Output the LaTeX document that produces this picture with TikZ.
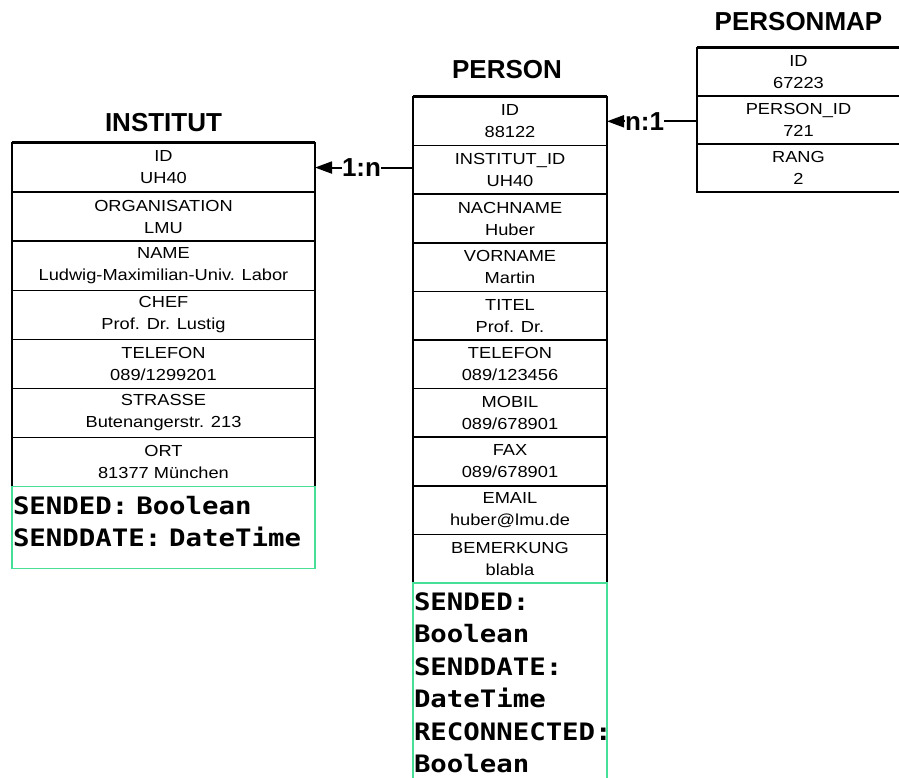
\documentclass[tikz,border=0pt]{standalone}
\usepackage{fontspec}
\setmainfont{Liberation Sans}
\newfontfamily\fieldfont[FakeStretch=1.14]{Liberation Sans}
\newfontfamily\sendfont[FakeStretch=1.14]{DejaVu Sans Mono}
\usepackage{xcolor}
\usepackage{tikz}
\usetikzlibrary{arrows.meta,positioning}
\definecolor{mint}{RGB}{70,225,150}

\begin{document}
\begin{tikzpicture}[
                    x=1pt, y=-1pt,
                    field/.style={draw, line width=1.5pt, outer sep=0pt, inner sep=0pt, align=center, minimum height=48.6pt, font=\fieldfont\fontsize{16}{22}\selectfont},
                    ifield/.style={field, minimum width=303pt, minimum height=49.1pt},
                    pfield/.style={field, minimum width=194pt},
                    mfield/.style={field, minimum width=203pt, minimum height=48pt},
                    topline/.style={line width=3pt},
                    sendbox/.style={draw=mint, line width=1.5pt, outer sep=0pt, inner xsep=1pt, inner ysep=0pt, align=left, font=\sendfont\bfseries\fontsize{24}{32.5}\selectfont},
                    title/.style={anchor=base, font=\bfseries\fontsize{26}{30}\selectfont},
                    rel/.style={-{Triangle[length=17pt,width=12pt]}, line width=2pt},
                    card/.style={fill=white, inner sep=0pt, anchor=west, font=\bfseries\fontsize{26}{30}\selectfont}
                ]
                    \useasboundingbox (0,0) rectangle (899,778);

                    % INSTITUT
                    \node[ifield, anchor=north west] (iId) at (12,143) {ID\\UH40};
                    \node[ifield, below=0pt of iId] (iOrg) {ORGANISATION\\LMU};
                    \node[ifield, below=0pt of iOrg] (iName) {NAME\\Ludwig-Maximilian-Univ. Labor};
                    \node[ifield, below=0pt of iName] (iChef) {CHEF\\Prof. Dr. Lustig};
                    \node[ifield, below=0pt of iChef] (iTel) {TELEFON\\089/1299201};
                    \node[ifield, below=0pt of iTel] (iStr) {STRASSE\\Butenangerstr. 213};
                    \node[ifield, below=0pt of iStr] (iOrt) {ORT\\81377 München};
                    \node[sendbox, text width=301pt, minimum height=82pt, text depth=45pt, below=0pt of iOrt] (iSend) {SENDED: Boolean\\SENDDATE: DateTime};
                    \node[above=11pt of iId, title] (iTitle) {INSTITUT};
                    \draw[topline] (iId.north west) -- (iId.north east);

                    % PERSON
                    \node[pfield, anchor=north west] (pId) at (413,97) {ID\\88122};
                    \node[pfield, below=0pt of pId] (pInst) {INSTITUT\_ID\\UH40};
                    \node[pfield, below=0pt of pInst] (pNach) {NACHNAME\\Huber};
                    \node[pfield, below=0pt of pNach] (pVor) {VORNAME\\Martin};
                    \node[pfield, below=0pt of pVor] (pTitel) {TITEL\\Prof. Dr.};
                    \node[pfield, below=0pt of pTitel] (pTel) {TELEFON\\089/123456};
                    \node[pfield, below=0pt of pTel] (pMob) {MOBIL\\089/678901};
                    \node[pfield, below=0pt of pMob] (pFax) {FAX\\089/678901};
                    \node[pfield, below=0pt of pFax] (pMail) {EMAIL\\huber@lmu.de};
                    \node[pfield, below=0pt of pMail] (pBem) {BEMERKUNG\\blabla};
                    \node[sendbox, text width=192pt, minimum height=200pt, below=0pt of pBem] (pSend) {SENDED:\\Boolean\\SENDDATE:\\DateTime\\RECONNECTED:\\Boolean};
                    \node[above=18pt of pId, title, xshift=-3pt] (pTitle) {PERSON};
                    \draw[topline] (pId.north west) -- (pId.north east);

                    % PERSONMAP
                    \node[mfield, anchor=north west] (mId) at (697,48) {ID\\67223};
                    \node[mfield, below=0pt of mId] (mPid) {PERSON\_ID\\721};
                    \node[mfield, below=0pt of mPid] (mRang) {RANG\\2};
                    \node[above=17pt of mId, title] (mTitle) {PERSONMAP};
                    \draw[topline] (mId.north west) -- (mId.north east);

                    % Relationships
                    \draw[rel] (iId.east -| pInst.west) -- node[card, pos=1, xshift=26pt]{1:n} (iId.east);
                    \draw[rel] (pId.east -| mPid.west) -- node[card, pos=1, xshift=17pt]{n:1} (pId.east);
                \end{tikzpicture}
\end{document}
